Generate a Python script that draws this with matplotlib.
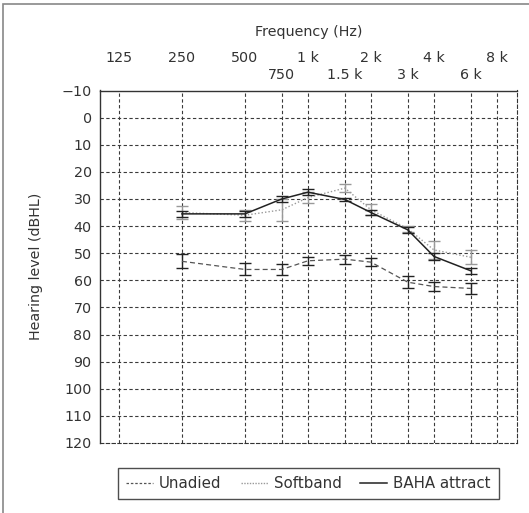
import matplotlib
matplotlib.use("Agg")
import matplotlib.pyplot as plt
from matplotlib.lines import Line2D
from matplotlib.patches import Rectangle
from matplotlib.ticker import FixedLocator, FixedFormatter

# audiogram data (dBHL)
freqs = [250, 500, 750, 1000, 1500, 2000, 3000, 4000, 6000]
unaided = [53, 56, 56, 52.8, 52.2, 53.3, 60.7, 62.3, 63]
unaided_err = [2.6, 2.2, 2.0, 1.5, 1.7, 1.6, 2.3, 1.8, 2.0]
softband = [35, 36, 34, 29.5, 26, 34, 41, 48.8, 51.5]
softband_err = [2.5, 2.0, 4.0, 2.0, 1.5, 2.0, 1.2, 3.2, 2.6]
baha = [35.5, 35.5, 30, 27.5, 30.2, 35, 41.4, 51.2, 56.5]
baha_err = [1.0, 1.0, 1.0, 1.0, 0.6, 1.0, 1.0, 1.2, 1.2]

major_freqs = [125, 250, 500, 1000, 2000, 4000, 8000]
major_labels = ["125", "250", "500", "1 k", "2 k", "4 k", "8 k"]
minor_freqs = [750, 1500, 3000, 6000]
minor_labels = ["750", "1.5 k", "3 k", "6 k"]
db_ticks = list(range(-10, 121, 10))

plt.rcParams['font.family'] = ['DejaVu Sans']
plt.rcParams['font.size'] = 10.3

fig = plt.figure(figsize=(5.29, 5.13), dpi=100)
ax = fig.add_axes([100 / 529, 1 - 443 / 513, 417 / 529, 352.5 / 513])

ax.set_xscale('log', base=2)
ax.set_xlim(101.5, 9970)
ax.set_ylim(120, -10)

grid_kw = dict(color='#3a3a3a', lw=0.8, dashes=(3, 2.2), zorder=1)
for f in major_freqs + minor_freqs:
    ax.axvline(f, **grid_kw)
for d in db_ticks[1:-1]:
    ax.axhline(d, **grid_kw)

ax.errorbar(freqs, unaided, yerr=unaided_err, color='#555555', ecolor='#222222',
            lw=0.9, dashes=(4, 2.5), elinewidth=1.0, capsize=4, capthick=1.0, zorder=3)
ax.errorbar(freqs, softband, yerr=softband_err, color='#999999', ecolor='#999999',
            lw=1.0, dashes=(1, 1.5), elinewidth=1.0, capsize=4, capthick=1.0, zorder=3)
ax.errorbar(freqs, baha, yerr=baha_err, color='#222222', ecolor='#222222',
            lw=1.1, elinewidth=1.0, capsize=4, capthick=1.0, zorder=4)

ax.xaxis.set_major_locator(FixedLocator(major_freqs))
ax.xaxis.set_major_formatter(FixedFormatter(major_labels))
ax.xaxis.set_minor_locator(FixedLocator(minor_freqs))
ax.xaxis.set_minor_formatter(FixedFormatter(minor_labels))
ax.xaxis.tick_top()
ax.tick_params(axis='x', which='major', length=0, pad=18.5, colors='#333333')
ax.tick_params(axis='x', which='minor', length=0, pad=6, colors='#333333')
ax.xaxis.set_label_position('top')
ax.set_xlabel('Frequency (Hz)', labelpad=11, color='#333333')

ax.set_yticks(db_ticks)
ax.set_yticklabels([str(d).replace('-', '\u2212') for d in db_ticks])
ax.tick_params(axis='y', length=0, pad=6, colors='#333333')
ax.set_ylabel('Hearing level (dBHL)', labelpad=13, color='#333333')

for side in ['top', 'left']:
    ax.spines[side].set_color('#333333')
    ax.spines[side].set_linewidth(1.0)
for side in ['bottom', 'right']:
    ax.spines[side].set_color('#333333')
    ax.spines[side].set_linewidth(0.8)
    ax.spines[side].set_linestyle((0, (3, 2.2)))

handles = [
    Line2D([], [], color='#555555', lw=0.9, dashes=(2, 1.5)),
    Line2D([], [], color='#999999', lw=1.0, dashes=(1, 1)),
    Line2D([], [], color='#222222', lw=1.1),
]
leg = fig.legend(handles, ['Unadied', 'Softband', 'BAHA attract'], ncol=3,
                 loc='lower left', mode='expand', fontsize=10.8,
                 bbox_to_anchor=(118 / 529, 1 - 499 / 513, 381 / 529, 37 / 513),
                 frameon=True, fancybox=False, edgecolor='#222222',
                 handlelength=1.8, handletextpad=0.4, columnspacing=1.0,
                 borderaxespad=0, borderpad=0.55)
leg.get_frame().set_linewidth(1.0)
for t in leg.get_texts():
    t.set_color('#333333')

fig.add_artist(Rectangle((3 / 529, -0.1), 1.2, 1.1 - 4 / 513, transform=fig.transFigure,
                         fill=False, edgecolor='#888888', lw=1.2))

fig.savefig('out.png', dpi=100)
